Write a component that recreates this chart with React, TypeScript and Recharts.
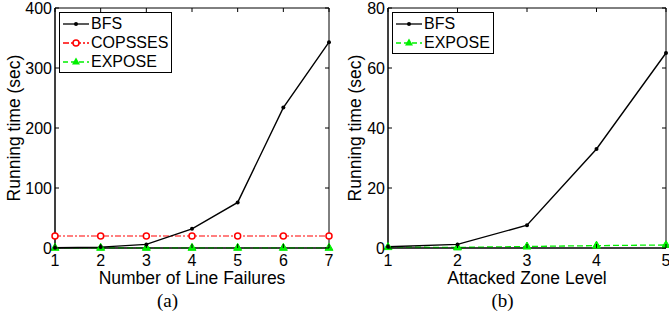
import React from 'react';
import { LineChart, Line, XAxis, YAxis, ReferenceArea } from 'recharts';

// (a) running time vs number of line failures
const lineFailures = [1, 2, 3, 4, 5, 6, 7];
const bfsA = [0.5, 1.5, 6, 32, 76, 234, 343];
const copssesA = [20, 20, 20, 20, 20, 20, 20];
const exposeA = [0.3, 0.3, 0.3, 0.3, 0.3, 0.3, 0.3];
const ticksA = [0, 100, 200, 300, 400];

// (b) running time vs attacked zone level
const zoneLevels = [1, 2, 3, 4, 5];
const bfsB = [0.4, 1.2, 7.6, 33, 65];
const exposeB = [0.3, 0.2, 0.5, 0.8, 1.0];
const ticksB = [0, 20, 40, 60, 80];

const FONT = '"Liberation Sans", Arial, sans-serif';
const GREEN = '#00f000';
const RED = '#ff0000';
const PLOT_TOP = 8;
const PLOT_BOTTOM = 248;
const TICK_LEN = 4;

const dataA = lineFailures.map((x, i) => ({ x, bfs: bfsA[i], copsses: copssesA[i], expose: exposeA[i] }));
const dataB = zoneLevels.map((x, i) => ({ x, bfs: bfsB[i], expose: exposeB[i] }));

const Triangle = (props: any) => {
  const { cx, cy } = props;
  if (cx == null || cy == null) return null;
  return <polygon points={`${cx},${cy - 4.5} ${cx - 4},${cy + 2.5} ${cx + 4},${cy + 2.5}`} fill={GREEN} stroke={GREEN} />;
};

const Marker = ({ kind }: { kind: string }) => {
  if (kind === 'bfs') return <circle cx={13} cy={7} r={2} fill="#000" />;
  if (kind === 'copsses') return <circle cx={13} cy={7} r={3} fill="#fff" stroke={RED} strokeWidth={1.5} />;
  return <polygon points="13,2.5 9,9.5 17,9.5" fill={GREEN} />;
};

const legendItems: Record<string, { label: string; color: string; dash?: string }> = {
  bfs: { label: 'BFS', color: '#000' },
  copsses: { label: 'COPSSES', color: RED, dash: '6 2 2 2' },
  expose: { label: 'EXPOSE', color: GREEN, dash: '5 3' },
};

const BoxLegend = ({ keys, left }: { keys: string[]; left: number }) => (
  <div style={{ position: 'absolute', top: 12, left, border: '1px solid #000', background: '#fff', padding: '1px 3px 1px 3px', fontFamily: FONT, fontSize: 16 }}>
    {keys.map((k) => (
      <div key={k} style={{ display: 'flex', alignItems: 'center', height: 19 }}>
        <svg width={26} height={14} style={{ marginRight: 2 }}>
          <line x1={0} y1={7} x2={26} y2={7} stroke={legendItems[k].color} strokeWidth={1.3} strokeDasharray={legendItems[k].dash} />
          <Marker kind={k} />
        </svg>
        <span>{legendItems[k].label}</span>
      </div>
    ))}
  </div>
);

// inward tick marks on both sides, MATLAB style
const makeXTick = () => (props: any) => {
  const { x, payload } = props;
  return (
    <g>
      <line x1={x} x2={x} y1={PLOT_BOTTOM} y2={PLOT_BOTTOM - TICK_LEN} stroke="#000" />
      <line x1={x} x2={x} y1={PLOT_TOP} y2={PLOT_TOP + TICK_LEN} stroke="#000" />
      <text x={x} y={PLOT_BOTTOM + 6} dy="0.72em" textAnchor="middle" fontSize={16} fontFamily={FONT} fill="#000">
        {payload.value}
      </text>
    </g>
  );
};

const makeYTick = (left: number, right: number) => (props: any) => {
  const { y, payload } = props;
  return (
    <g>
      <line x1={left} x2={left + TICK_LEN} y1={y} y2={y} stroke="#000" />
      <line x1={right - TICK_LEN} x2={right} y1={y} y2={y} stroke="#000" />
      <text x={left - 3} y={y} dy="0.36em" textAnchor="end" fontSize={16} fontFamily={FONT} fill="#000">
        {payload.value}
      </text>
    </g>
  );
};

interface PanelProps {
  data: any[];
  xs: number[];
  yTicks: number[];
  xLabel: string;
  caption: string;
  keys: string[];
  width: number;
  yAxisWidth: number;
  marginRight: number;
  legendLeft: number;
  yLabelOffset: number;
}

const Panel = ({ data, xs, yTicks, xLabel, caption, keys, width, yAxisWidth, marginRight, legendLeft, yLabelOffset }: PanelProps) => {
  const xDomain = [xs[0], xs[xs.length - 1]];
  const yDomain = [yTicks[0], yTicks[yTicks.length - 1]];
  const plotLeft = yAxisWidth;
  const plotRight = width - marginRight;
  return (
    <div style={{ position: 'relative', width, height: 318 }}>
      <LineChart width={width} height={290} data={data} margin={{ top: PLOT_TOP, right: marginRight, left: 0, bottom: 0 }}>
        <XAxis
          dataKey="x"
          type="number"
          domain={xDomain}
          ticks={xs}
          interval={0}
          height={290 - PLOT_BOTTOM}
          stroke="#000"
          tickLine={false}
          tick={makeXTick()}
          label={{ value: xLabel, position: 'insideBottom', offset: 6, style: { fontSize: 17.5, fill: '#000', fontFamily: FONT } }}
        />
        <YAxis
          type="number"
          domain={yDomain}
          ticks={yTicks}
          interval={0}
          width={yAxisWidth}
          stroke="#000"
          tickLine={false}
          tick={makeYTick(plotLeft, plotRight)}
          label={{ value: 'Running time (sec)', angle: -90, position: 'insideLeft', offset: yLabelOffset, style: { fontSize: 17.5, fill: '#000', fontFamily: FONT, textAnchor: 'middle' } }}
        />
        <ReferenceArea x1={xDomain[0]} x2={xDomain[1]} y1={yDomain[0]} y2={yDomain[1]} fill="none" stroke="#000" strokeWidth={1} />
        {keys.includes('copsses') && (
          <Line dataKey="copsses" stroke={RED} strokeWidth={1.2} strokeDasharray="6 2 2 2" dot={{ r: 3, fill: '#fff', stroke: RED, strokeWidth: 1.5, strokeDasharray: '' }} isAnimationActive={false} />
        )}
        <Line dataKey="expose" stroke={GREEN} strokeWidth={1.3} strokeDasharray="6 3" dot={<Triangle />} isAnimationActive={false} />
        <Line dataKey="bfs" stroke="#000" strokeWidth={1.4} dot={{ r: 2, fill: '#000', stroke: '#000', strokeWidth: 0 }} isAnimationActive={false} />
      </LineChart>
      <BoxLegend keys={keys} left={legendLeft} />
      <div style={{ position: 'absolute', top: 290, left: 0, width: 335, textAlign: 'center', lineHeight: '22px', fontFamily: '"Liberation Serif", "Times New Roman", serif', fontSize: 19 }}>
        {caption}
      </div>
    </div>
  );
};

export default function App() {
  return (
    <div style={{ position: 'absolute', left: 0, top: 0, width: 669, height: 318, background: '#fff', overflow: 'hidden', display: 'flex' }}>
      <Panel data={dataA} xs={lineFailures} yTicks={ticksA} xLabel="Number of Line Failures" caption="(a)" keys={['bfs', 'copsses', 'expose']} width={335} yAxisWidth={55} marginRight={6} legendLeft={59} yLabelOffset={14} />
      <Panel data={dataB} xs={zoneLevels} yTicks={ticksB} xLabel="Attacked Zone Level" caption="(b)" keys={['bfs', 'expose']} width={334} yAxisWidth={53} marginRight={3} legendLeft={57} yLabelOffset={20} />
    </div>
  );
}
